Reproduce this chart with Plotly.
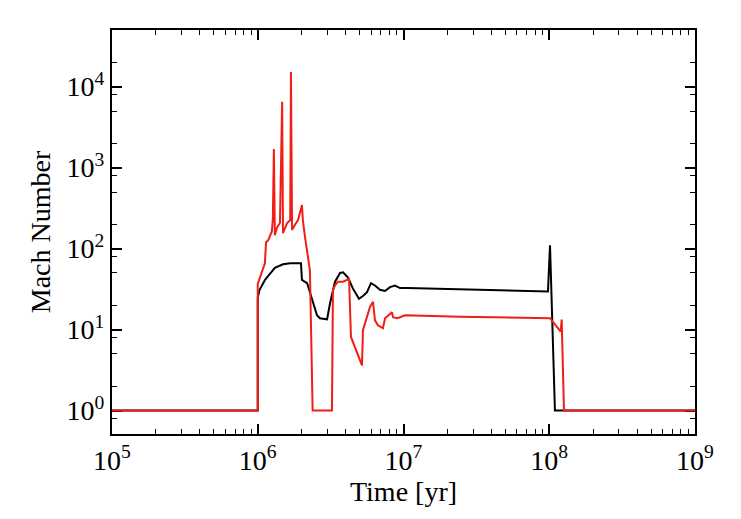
import plotly.graph_objects as go

# Black curve
black_t = [1e5, 1.0e6, 1.0e6, 1.03e6, 1.12e6, 1.31e6, 1.49e6, 1.67e6, 1.98e6, 2.01e6, 2.18e6,
           2.36e6, 2.55e6, 2.67e6, 2.99e6, 3.13e6, 3.39e6, 3.67e6, 3.85e6, 4.16e6, 4.50e6,
           4.95e6, 5.27e6, 5.62e6, 5.98e6, 6.37e6, 6.90e6, 7.47e6, 8.08e6, 8.74e6, 9.46e6,
           1.057e7, 2.44e7, 4.59e7, 9.80e7, 1.012e8, 1.094e8, 1e9]
black_m = [1, 1, 25, 31, 41, 58, 64, 66, 66, 41, 37.5,
           23, 15, 13.8, 13.4, 21, 39, 50, 51, 44, 32,
           24, 26, 29, 37.5, 35, 31, 30, 33.4, 35, 32.5,
           32.5, 31.3, 30.2, 29.5, 110, 1, 1]

# Red curve
red_t = [1e5, 1.0e6, 1.0e6, 1.07e6, 1.12e6, 1.14e6, 1.18e6, 1.25e6, 1.27e6, 1.29e6, 1.31e6,
         1.36e6, 1.42e6, 1.47e6, 1.49e6, 1.59e6, 1.67e6, 1.69e6, 1.72e6, 1.80e6, 1.89e6,
         2.01e6, 2.04e6, 2.11e6, 2.28e6, 2.38e6, 3.23e6, 3.28e6, 3.39e6, 3.55e6, 3.85e6,
         4.10e6, 4.23e6, 4.36e6, 4.65e6, 4.87e6, 5.19e6, 5.27e6, 5.62e6, 5.89e6, 6.18e6,
         6.37e6, 6.68e6, 7.23e6, 7.47e6, 7.83e6, 8.34e6, 8.47e6, 9.03e6, 9.46e6, 1.024e7,
         2.44e7, 9.80e7, 1.012e8, 1.198e8, 1.217e8, 1.262e8, 1e9]
red_m = [1, 1, 37, 54, 66, 120, 127, 163, 236, 1700, 146,
         184, 207, 6500, 155, 207, 225, 15200, 170, 197, 225,
         345, 225, 139, 54, 1, 1, 31, 35, 39, 39,
         41, 43, 8.1, 5.9, 4.8, 3.6, 9.8, 14.2, 19, 22,
         13, 11.3, 10.4, 13.8, 15, 16.4, 14.2, 13.8, 14.2, 15,
         14.4, 13.8, 13.8, 9.4, 13.3, 1, 1]

x_major = [1e5, 1e6, 1e7, 1e8, 1e9]
x_labels = ["10<sup>5</sup>", "10<sup>6</sup>", "10<sup>7</sup>", "10<sup>8</sup>", "10<sup>9</sup>"]
y_major = [1, 10, 100, 1000, 10000]
y_labels = ["10<sup>0</sup>", "10<sup>1</sup>", "10<sup>2</sup>", "10<sup>3</sup>", "10<sup>4</sup>"]

x_minor = [k * 10 ** n for n in range(5, 9) for k in range(2, 10)]
y_minor = [k * 10 ** n for n in range(-1, 5) for k in (2, 5, 8)]

fig = go.Figure()
fig.add_trace(go.Scatter(x=black_t, y=black_m, mode="lines",
                         line=dict(color="black", width=2), showlegend=False))
fig.add_trace(go.Scatter(x=red_t, y=red_m, mode="lines",
                         line=dict(color="#f01e14", width=2), showlegend=False))

font = dict(family="Liberation Serif, DejaVu Serif, serif", size=28, color="black")

axis_common = dict(type="log", showgrid=False, zeroline=False, showline=True,
                   linecolor="black", linewidth=2, ticks="inside", ticklen=10,
                   tickwidth=1.5, tickcolor="black", mirror="allticks",
                   tickmode="array", tickfont=font, layer="below traces")

fig.update_xaxes(**axis_common, range=[5, 9], tickvals=x_major, ticktext=x_labels,
                 minor=dict(tickmode="array", tickvals=x_minor, ticks="inside",
                            ticklen=5, tickwidth=1.2, tickcolor="black"),
                 title=dict(text="Time [yr]", font=font, standoff=2))
fig.update_yaxes(**axis_common, range=[-0.29, 4.70], tickvals=y_major, ticktext=y_labels,
                 minor=dict(tickmode="array", tickvals=y_minor, ticks="inside",
                            ticklen=5, tickwidth=1.2, tickcolor="black"),
                 title=dict(text="Mach Number", font=font, standoff=8))

fig.update_layout(width=741, height=519, margin=dict(l=112, r=46, t=30, b=85),
                  plot_bgcolor="white", paper_bgcolor="white", font=font)

fig.write_html("out.html")
